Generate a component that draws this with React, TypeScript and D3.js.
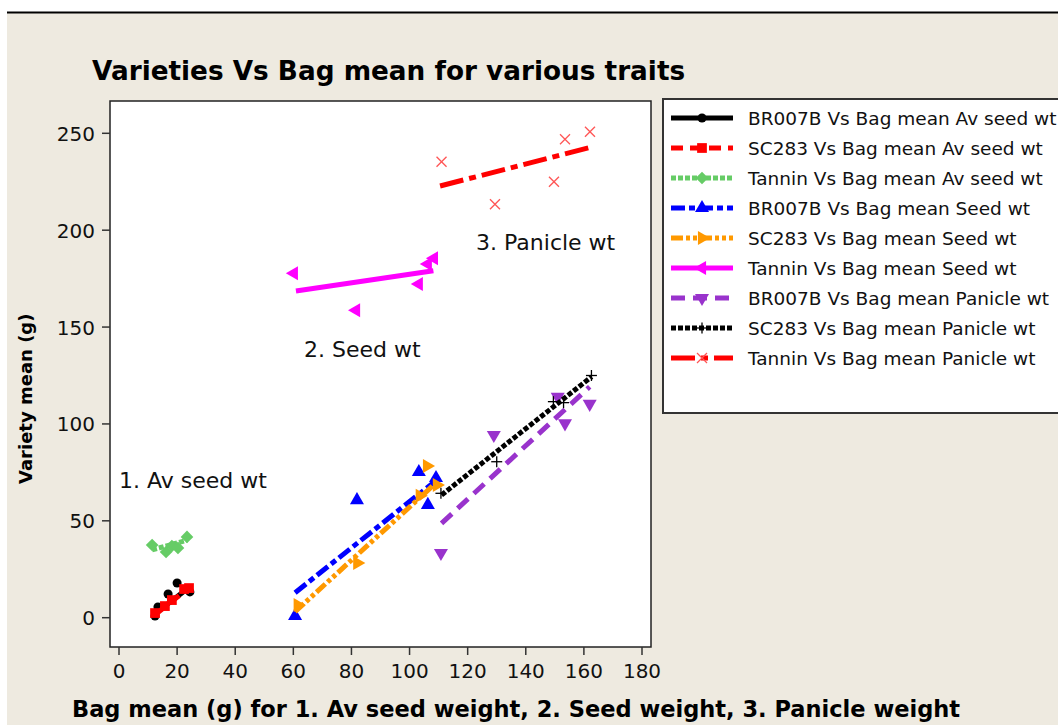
import * as d3 from "d3";

// bag mean (x) and variety mean (y)
const avBagBR = [12.4, 13.4, 16.9, 20.0, 24.4];
const avVarBR = [0.9, 5.5, 12.2, 17.9, 13.3];
const avBagSC = [12.4, 15.8, 18.2, 22.4, 24.1];
const avVarSC = [2.4, 6.0, 9.1, 14.8, 15.3];
const avBagTa = [11.4, 16.2, 18.2, 20.3, 23.4];
const avVarTa = [37.5, 33.9, 37.0, 36.0, 41.7];
const seedBagBR = [60.6, 81.9, 103.2, 106.3, 109.1];
const seedVarBR = [0.9, 60.7, 75.2, 58.2, 72.1];
const seedBagSC = [61.5, 82.0, 103.5, 106.0, 109.4];
const seedVarSC = [6.5, 28.2, 63.0, 78.3, 68.5];
const seedBagTa = [60.2, 81.6, 103.2, 106.3, 108.4];
const seedVarTa = [177.8, 158.7, 172.2, 182.5, 185.5];
const panBagBR = [110.8, 129.0, 151.0, 153.5, 162.0];
const panVarBR = [33.4, 94.3, 114.0, 100.3, 110.4];
const panBagSC = [110.8, 130.0, 149.5, 153.0, 162.6];
const panVarSC = [64.2, 80.5, 111.5, 111.0, 125.0];
const panBagTa = [111.0, 129.4, 149.7, 153.5, 162.1];
const panVarTa = [235.3, 213.4, 225.0, 246.9, 250.8];

// fitted lines: [x1, y1, x2, y2]
const fitBR_av = [12.4, 2, 24.4, 16];
const fitSC_av = [12.4, 1.5, 24.1, 15.5];
const fitTa_av = [11.4, 35, 23.4, 40];
const fitBR_seed = [60.6, 12.9, 109.3, 71];
const fitSC_seed = [60.6, 3.1, 109.4, 70];
const fitTa_seed = [60.9, 168.6, 108.2, 179.1];
const fitBR_pan = [111, 48.7, 162, 119.2];
const fitSC_pan = [111, 63.3, 162.7, 124.4];
const fitTa_pan = [110.5, 222.8, 162.7, 242.9];

const seriesNames = [
  "BR007B Vs Bag mean Av seed wt",
  "SC283 Vs Bag mean Av seed wt",
  "Tannin Vs Bag mean Av seed wt",
  "BR007B Vs Bag mean Seed wt",
  "SC283 Vs Bag mean Seed wt",
  "Tannin Vs Bag mean Seed wt",
  "BR007B Vs Bag mean Panicle wt",
  "SC283 Vs Bag mean Panicle wt",
  "Tannin Vs Bag mean Panicle wt",
];

const xTicks = [0, 20, 40, 60, 80, 100, 120, 140, 160, 180];
const yTicks = [0, 50, 100, 150, 200, 250];

const annotations = [
  { text: "1. Av seed wt", x: 0, y: 67 },
  { text: "2. Seed wt", x: 63.7, y: 134.5 },
  { text: "3. Panicle wt", x: 122.9, y: 189.8 },
];

type Marker = "circle" | "square" | "diamond" | "up" | "right" | "left" | "down" | "plus" | "x";

const series = [
  { xs: avBagBR, ys: avVarBR, fit: fitBR_av, color: "#000000", dash: "", marker: "circle" as Marker },
  { xs: avBagSC, ys: avVarSC, fit: fitSC_av, color: "#ff0000", dash: "12,7", marker: "square" as Marker },
  { xs: avBagTa, ys: avVarTa, fit: fitTa_av, color: "#66cc66", dash: "5,2", marker: "diamond" as Marker },
  { xs: seedBagBR, ys: seedVarBR, fit: fitBR_seed, color: "#0000ff", dash: "14,4,6,4", marker: "up" as Marker },
  { xs: seedBagSC, ys: seedVarSC, fit: fitSC_seed, color: "#ff9900", dash: "12,3,4,3,4,3", marker: "right" as Marker },
  { xs: seedBagTa, ys: seedVarTa, fit: fitTa_seed, color: "#ff00ff", dash: "", marker: "left" as Marker },
  { xs: panBagBR, ys: panVarBR, fit: fitBR_pan, color: "#9933cc", dash: "14,8", marker: "down" as Marker },
  { xs: panBagSC, ys: panVarSC, fit: fitSC_pan, color: "#000000", dash: "5,2", marker: "plus" as Marker },
  { xs: panBagTa, ys: panVarTa, fit: fitTa_pan, color: "#ff0000", dash: "24,6,7,6", marker: "x" as Marker },
];

const FONT = "'DejaVu Sans', Verdana, sans-serif";

function MarkerShape({ kind, x, y, color }: { kind: Marker; x: number; y: number; color: string }) {
  if (kind === "plus") {
    return (
      <g transform={`translate(${x},${y})`} stroke={color} strokeWidth={1.3}>
        <line x1={-5.5} y1={0} x2={5.5} y2={0} />
        <line x1={0} y1={-5.5} x2={0} y2={5.5} />
      </g>
    );
  }
  if (kind === "x") {
    return (
      <g transform={`translate(${x},${y})`} stroke="#ff5555" strokeWidth={1.3}>
        <line x1={-5} y1={-5} x2={5} y2={5} />
        <line x1={-5} y1={5} x2={5} y2={-5} />
      </g>
    );
  }
  let type: d3.SymbolType = d3.symbolTriangle;
  let size = 85;
  let rot = 0;
  if (kind === "circle") { type = d3.symbolCircle; size = 64; }
  if (kind === "square") { type = d3.symbolSquare; size = 95; }
  if (kind === "diamond") { type = d3.symbolSquare; size = 80; rot = 45; }
  if (kind === "right") rot = 90;
  if (kind === "down") rot = 180;
  if (kind === "left") rot = -90;
  const d = d3.symbol().type(type).size(size)() ?? "";
  return <path d={d} fill={color} transform={`translate(${x},${y}) rotate(${rot})`} />;
}

export default function App() {
  const width = 1058;
  const height = 725;
  const frame = { left: 110, right: 651, top: 101, bottom: 647 };

  const x = d3.scaleLinear().domain([0, 180]).range([119, 642]);
  const y = d3.scaleLinear().domain([0, 250]).range([617.7, 133.3]);

  const legend = { left: 663, top: 99, rowY0: 118, rowH: 30 };

  return (
    <svg
      width={width}
      height={height}
      style={{ position: "absolute", left: 0, top: 0 }}
      fontFamily={FONT}
    >
      <rect x={0} y={0} width={width} height={height} fill="#ffffff" />
      <rect x={7} y={13} width={width - 7} height={height - 13} fill="#eeeae0" />
      <line x1={7} y1={12.5} x2={width} y2={12.5} stroke="#000" strokeWidth={2} />

      <text x={92} y={80} fontSize={26.3} fontWeight="bold" fill="#000">
        Varieties Vs Bag mean for various traits
      </text>

      {/* plot frame */}
      <rect
        x={frame.left}
        y={frame.top}
        width={frame.right - frame.left}
        height={frame.bottom - frame.top}
        fill="#ffffff"
        stroke="#222"
        strokeWidth={1.5}
      />

      {/* x axis */}
      {xTicks.map((t) => (
        <g key={`xt${t}`}>
          <line x1={x(t)} x2={x(t)} y1={frame.bottom} y2={frame.bottom + 8} stroke="#333" strokeWidth={1.5} />
          <text x={x(t)} y={678} fontSize={20} textAnchor="middle" fill="#111">
            {t}
          </text>
        </g>
      ))}
      {/* y axis */}
      {yTicks.map((t) => (
        <g key={`yt${t}`}>
          <line x1={frame.left - 8} x2={frame.left} y1={y(t)} y2={y(t)} stroke="#333" strokeWidth={1.5} />
          <text x={95} y={y(t) + 7.5} fontSize={20} textAnchor="end" fill="#111">
            {t}
          </text>
        </g>
      ))}

      <text x={72} y={717} fontSize={22.5} fontWeight="bold" fill="#000">
        Bag mean (g) for 1. Av seed weight, 2. Seed weight, 3. Panicle weight
      </text>
      <text
        transform={`translate(32,484) rotate(-90)`}
        fontSize={18}
        fontWeight="bold"
        fill="#000"
      >
        Variety mean (g)
      </text>

      {/* series */}
      {series.map((s, i) => (
        <g key={`s${i}`}>
          <line
            x1={x(s.fit[0])}
            y1={y(s.fit[1])}
            x2={x(s.fit[2])}
            y2={y(s.fit[3])}
            stroke={s.color}
            strokeWidth={5}
            strokeDasharray={s.dash || undefined}
          />
          {s.xs.map((v, j) => (
            <MarkerShape key={j} kind={s.marker} x={x(v)} y={y(s.ys[j])} color={s.color} />
          ))}
        </g>
      ))}

      {annotations.map((a) => (
        <text key={a.text} x={x(a.x)} y={y(a.y)} fontSize={22} fill="#111">
          {a.text}
        </text>
      ))}

      {/* legend */}
      <rect x={legend.left} y={legend.top} width={width - legend.left + 5} height={314} fill="#fff" stroke="#333" strokeWidth={2} />
      {series.map((s, i) => {
        const cy = legend.rowY0 + i * legend.rowH;
        return (
          <g key={`l${i}`}>
            <line x1={671} x2={733} y1={cy} y2={cy} stroke={s.color} strokeWidth={5} strokeDasharray={s.dash || undefined} />
            <MarkerShape kind={s.marker} x={702} y={cy} color={s.color} />
            <text x={748} y={cy + 6.5} fontSize={18.5} fill="#111">
              {seriesNames[i]}
            </text>
          </g>
        );
      })}
    </svg>
  );
}
